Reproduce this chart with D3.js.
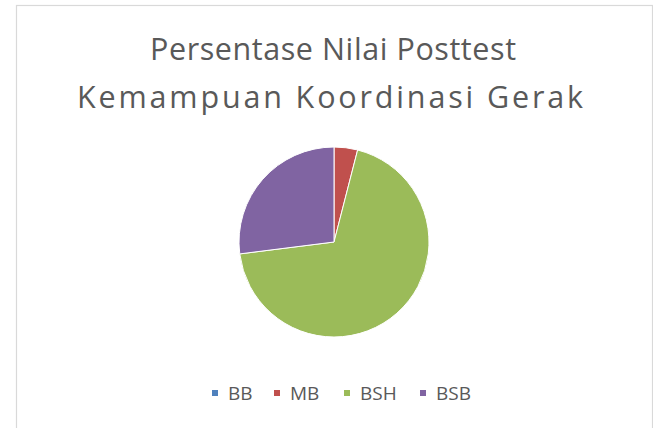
<!DOCTYPE html>
<html>
  <head>
    <script src="https://d3js.org/d3.v7.min.js"></script>
    <meta charset="utf-8">
    <title>Persentase Nilai Posttest</title>
    <style>
      body { margin: 0; background: #fff; }
      svg { display: block; font-family: "Open Sans", "Liberation Sans", sans-serif; }
    </style>
  </head>
  <body>
    <script>
      // Data (percent)
      const categories = ["BB", "MB", "BSH", "BSB"];
      const values = [0, 4, 69, 27];
      const colors = ["#4F81BD", "#C0504D", "#9BBB59", "#8064A2"];
      const titleLines = ["Persentase Nilai Posttest", "Kemampuan Koordinasi Gerak"];

      const width = 653, height = 428;

      const svg = d3.select("body")
        .append("svg")
        .attr("width", width)
        .attr("height", height);

      // chart area border
      svg.append("rect")
        .attr("x", 16.5)
        .attr("y", 5.5)
        .attr("width", 636)
        .attr("height", 430)
        .attr("fill", "#fff")
        .attr("stroke", "#d9d9d9")
        .attr("stroke-width", 1.2);

      // title (widths matched to the original narrow font)
      const titleWidths = [366, 506];
      svg.selectAll("text.title")
        .data(titleLines)
        .enter()
        .append("text")
        .attr("class", "title")
        .attr("x", (d, i) => i === 0 ? 150 : 77)
        .attr("y", (d, i) => 60 + i * 48)
        .attr("textLength", (d, i) => titleWidths[i])
        .attr("lengthAdjust", "spacing")
        .attr("font-size", "30.5px")
        .attr("fill", "#595959")
        .text(d => d);

      // pie
      const color = d3.scaleOrdinal().domain(categories).range(colors);
      const pie = d3.pie().sort(null).value(d => d.value);
      const arc = d3.arc().innerRadius(0).outerRadius(95);
      const data = categories.map((c, i) => ({ name: c, value: values[i] }));

      const g = svg.append("g").attr("transform", "translate(334,242)");
      g.selectAll("path")
        .data(pie(data))
        .enter()
        .append("path")
        .attr("d", arc)
        .attr("fill", d => color(d.data.name))
        .attr("stroke", "#fff")
        .attr("stroke-width", 1);

      // legend
      const legendX = [215, 277, 347, 423];
      const legend = svg.selectAll("g.legend")
        .data(categories)
        .enter()
        .append("g")
        .attr("class", "legend")
        .attr("transform", (d, i) => `translate(${legendX[i]},393)`);

      legend.append("rect")
        .attr("x", -3)
        .attr("y", -3)
        .attr("width", 6)
        .attr("height", 6)
        .attr("fill", d => color(d));

      legend.append("text")
        .attr("x", 13)
        .attr("y", 6.5)
        .attr("font-size", "19px")
        .attr("fill", "#595959")
        .text(d => d);
    </script>
  </body>
</html>
